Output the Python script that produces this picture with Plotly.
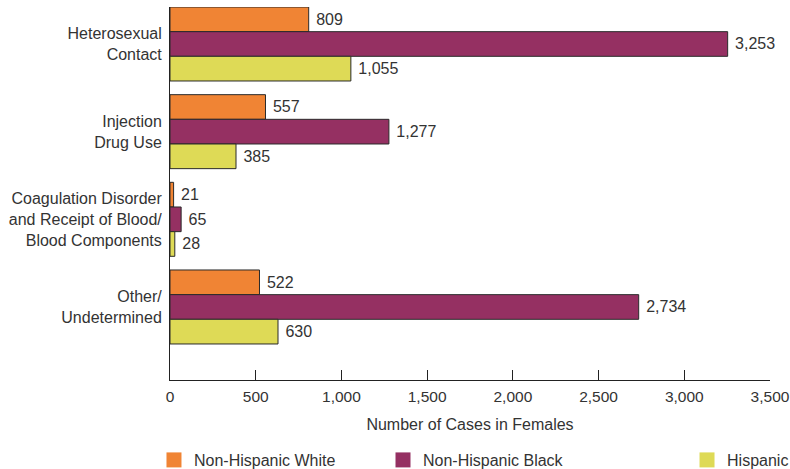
import plotly.graph_objects as go

categories = ["Heterosexual<br>Contact", "Injection<br>Drug Use",
              "Coagulation Disorder<br>and Receipt of Blood/<br>Blood Components",
              "Other/<br>Undetermined"]
series_names = ["Non-Hispanic White", "Non-Hispanic Black", "Hispanic"]
white = [809, 557, 21, 522]
black = [3253, 1277, 65, 2734]
hispanic = [1055, 385, 28, 630]
x_ticks = [0, 500, 1000, 1500, 2000, 2500, 3000, 3500]
x_tick_labels = ["0", "500", "1,000", "1,500", "2,000", "2,500", "3,000", "3,500"]

colors = ["#F08434", "#953062", "#DEDA56"]
FONT = "Liberation Sans, Arial, sans-serif"
TXT = "#333333"

fig = go.Figure()
for name, vals, col in zip(series_names, [white, black, hispanic], colors):
    fig.add_trace(go.Bar(
        y=list(range(len(categories))), x=vals, orientation="h", name=name,
        marker=dict(color=col, line=dict(color="#2a2a2a", width=1)),
        text=["\u00a0" + f"{v:,}" for v in vals], textposition="outside",
        textfont=dict(size=16, color=TXT, family=FONT),
        cliponaxis=False, showlegend=False,
    ))

legend_x = [-0.0267, 0.355, 0.8617]
for i, (name, col) in enumerate(zip(series_names, colors)):
    fig.add_trace(go.Scatter(
        x=[None], y=[None], mode="markers", name=name,
        marker=dict(symbol="square", size=15, color=col, line=dict(width=0)),
        legend="legend" if i == 0 else f"legend{i+1}",
    ))

leg = dict(orientation="h", yanchor="middle", y=-0.2145, xanchor="left",
           font=dict(size=16, color=TXT, family=FONT), itemsizing="trace",
           bgcolor="rgba(0,0,0,0)", borderwidth=0)
fig.update_layout(
    legend=dict(leg, x=legend_x[0]),
    legend2=dict(leg, x=legend_x[1]),
    legend3=dict(leg, x=legend_x[2]),
)

fig.update_layout(
    width=790, height=469,
    margin=dict(l=170, r=20, t=7, b=89, autoexpand=False),
    paper_bgcolor="white", plot_bgcolor="white",
    barmode="group", bargap=0.156, bargroupgap=0,
    font=dict(family=FONT, size=16, color=TXT),
    xaxis=dict(
        range=[0, 3500], tickvals=x_ticks, ticktext=x_tick_labels,
        ticks="inside", ticklen=10, tickcolor="#222", tickwidth=1,
        showline=True, linecolor="#222", linewidth=1,
        showgrid=False, zeroline=False, automargin=False, ticklabelstandoff=2,
        tickfont=dict(size=15.5, color=TXT, family=FONT),
        title=dict(text="Number of Cases in Females", font=dict(size=16, color=TXT, family=FONT), standoff=15),
    ),
    yaxis=dict(
        range=[3.833, -0.422], tickvals=list(range(len(categories))), ticktext=categories,
        ticks="", showline=True, linecolor="#222", linewidth=1,
        showgrid=False, zeroline=False, ticklabelstandoff=4, automargin=False,
        tickfont=dict(size=16, color=TXT, family=FONT),
    ),
    showlegend=True,
)

# remove the browser's default 8px body margin so the 790x469 figure fills the window
fig.write_html("out.html", config={"displayModeBar": False},
               post_script="document.body.style.margin='0';")
